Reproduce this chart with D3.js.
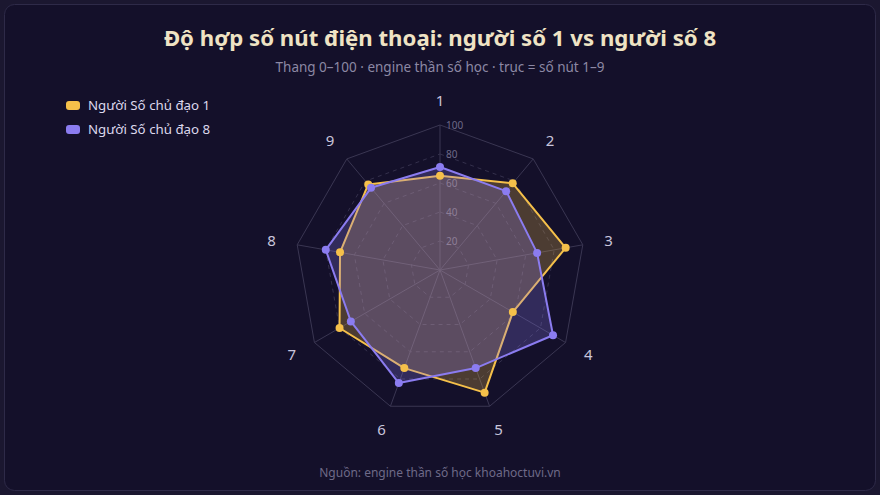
<!DOCTYPE html>
<html>
<head>
<meta charset="utf-8">
<script src="https://cdn.jsdelivr.net/npm/d3@7"></script>
<style>
  html, body { margin: 0; padding: 0; background: #1b1730; }
  body { width: 880px; height: 495px; overflow: hidden; font-family: 'Noto Sans', 'Open Sans', sans-serif; }
</style>
</head>
<body>
<div id="chart"></div>
<script>
const axes = ['1', '2', '3', '4', '5', '6', '7', '8', '9']
const person1 = [65, 78, 88, 58, 90, 72, 80, 70, 77]
const person8 = [71, 71, 68, 90, 72, 83, 71, 80, 74]
const seriesNames = ['Người Số chủ đạo 1', 'Người Số chủ đạo 8']
const levels = [20, 40, 60, 80, 100]

const yellow = '#f5c04a'
const purple = '#8b7cf0'

const width = 880
const height = 495
const cx = 440
const cy = 270
const radius = 145

const svg = d3.select('#chart').append('svg')
  .attr('width', width)
  .attr('height', height)

svg.append('rect')
  .attr('x', 4.5).attr('y', 4.5)
  .attr('width', width - 9).attr('height', height - 9)
  .attr('rx', 10)
  .attr('fill', '#14102a')
  .attr('stroke', '#2e2a48')

svg.append('text')
  .attr('x', cx).attr('y', 46)
  .attr('text-anchor', 'middle')
  .attr('font-size', 22.2).attr('font-weight', 700)
  .attr('fill', '#efe3c4')
  .text('Độ hợp số nút điện thoại: người số 1 vs người số 8')

svg.append('text')
  .attr('x', cx).attr('y', 72)
  .attr('text-anchor', 'middle')
  .attr('font-size', 13.5)
  .attr('fill', '#8c88a4')
  .text('Thang 0–100 · engine thần số học · trục = số nút 1–9')

svg.append('text')
  .attr('x', cx).attr('y', 477)
  .attr('text-anchor', 'middle')
  .attr('font-size', 12)
  .attr('fill', '#6e6a88')
  .text('Nguồn: engine thần số học khoahoctuvi.vn')

const r = d3.scaleLinear().domain([0, 100]).range([0, radius])
const angle = d3.scalePoint().domain(axes).range([0, 2 * Math.PI * (axes.length - 1) / axes.length])

const g = svg.append('g').attr('transform', `translate(${cx} ${cy})`)

const pt = (a, v) => [r(v) * Math.sin(angle(a)), -r(v) * Math.cos(angle(a))]

// grid
levels.forEach(lv => {
  g.append('polygon')
    .attr('points', axes.map(a => pt(a, lv).join(',')).join(' '))
    .attr('fill', 'none')
    .attr('stroke', lv === 100 ? '#3a3652' : '#34304c')
    .attr('stroke-dasharray', lv === 100 ? null : '4 4')
})

g.selectAll('line.spoke')
  .data(axes)
  .enter()
  .append('line')
  .classed('spoke', true)
  .attr('x1', 0).attr('y1', 0)
  .attr('x2', d => pt(d, 100)[0])
  .attr('y2', d => pt(d, 100)[1])
  .attr('stroke', '#3a3652')

g.selectAll('text.level')
  .data(levels)
  .enter()
  .append('text')
  .classed('level', true)
  .attr('x', 6)
  .attr('y', d => -r(d) + 4)
  .attr('font-size', 10)
  .attr('fill', '#6e6a88')
  .text(d => d)

g.selectAll('text.axis')
  .data(axes)
  .enter()
  .append('text')
  .classed('axis', true)
  .attr('x', d => pt(d, 118)[0])
  .attr('y', d => pt(d, 117)[1] + 5.5)
  .attr('text-anchor', 'middle')
  .attr('font-size', 15)
  .attr('fill', '#c9c5dc')
  .text(d => d)

const series = [
  { name: seriesNames[0], values: person1, color: yellow },
  { name: seriesNames[1], values: person8, color: purple }
]

series.forEach(s => {
  const points = axes.map((a, i) => pt(a, s.values[i]))
  g.append('polygon')
    .attr('points', points.map(p => p.join(',')).join(' '))
    .attr('fill', s.color)
    .attr('fill-opacity', 0.25)
    .attr('stroke', s.color)
    .attr('stroke-width', 2)
    .attr('stroke-linejoin', 'round')
})

series.forEach(s => {
  g.selectAll(null)
    .data(axes)
    .enter()
    .append('circle')
    .attr('cx', (a, i) => pt(a, s.values[i])[0])
    .attr('cy', (a, i) => pt(a, s.values[i])[1])
    .attr('r', 4)
    .attr('fill', s.color)
})

// legend
const legend = svg.append('g').attr('transform', 'translate(66 99)')
series.forEach((s, i) => {
  const row = legend.append('g').attr('transform', `translate(0 ${i * 24})`)
  row.append('rect')
    .attr('width', 14).attr('height', 9).attr('rx', 3)
    .attr('y', 2)
    .attr('fill', s.color)
  row.append('text')
    .attr('x', 22).attr('y', 11)
    .attr('font-size', 13.3)
    .attr('fill', '#dcd8ec')
    .text(s.name)
})
</script>
</body>
</html>
